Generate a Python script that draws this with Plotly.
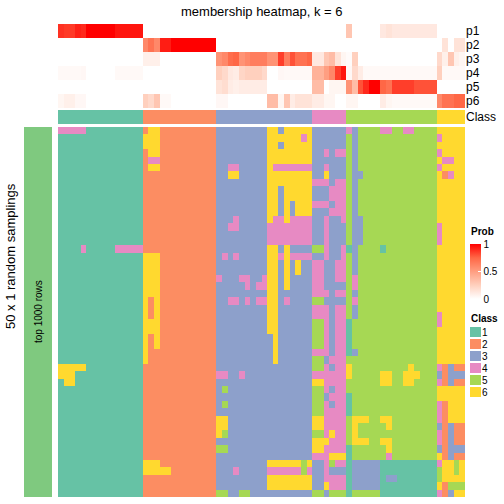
import plotly.graph_objects as go

W = H = 504
FONT = "Liberation Sans, Arial, sans-serif"

def fx(p):
    return p / W

def fy(p):
    return 1 - p / H

# ---------------- data ----------------
prob_names = ["p1", "p2", "p3", "p4", "p5", "p6"]
class_labels = ["1", "2", "3", "4", "5", "6"]
class_colors = ["#66C2A5", "#FC8D62", "#8DA0CB", "#E78AC3", "#A6D854", "#FFD92F"]

sample_class = [1, 1, 1, 1, 1, 1, 1, 1, 1, 1, 1, 1, 1, 1, 1,
                2, 2, 2, 2, 2, 2, 2, 2, 2, 2, 2, 2, 2,
                3, 3, 3, 3, 3, 3, 3, 3, 3, 3, 3, 3, 3, 3, 3, 3, 3,
                4, 4, 4, 4, 4, 4,
                5, 5, 5, 5, 5, 5, 5, 5, 5, 5, 5, 5, 5, 5, 5, 5,
                6, 6, 6, 6, 6]

p1 = [0.88, 0.86, 0.86, 0.92, 0.90, 1, 1, 1, 1, 1, 0.95, 0.95, 0.95, 0.95, 0.95,
      0, 0, 0, 0, 0, 0, 0, 0, 0, 0, 0, 0, 0,
      0, 0, 0, 0, 0, 0, 0, 0, 0, 0, 0, 0, 0, 0, 0, 0, 0,
      0, 0, 0, 0, 0, 0,
      0.30, 0, 0, 0, 0, 0, 0.12, 0.15, 0.12, 0.12, 0.12, 0.12, 0.12, 0.12, 0.12, 0.12,
      0, 0, 0, 0, 0]
p2 = [0, 0, 0, 0, 0, 0, 0, 0, 0, 0, 0, 0, 0, 0, 0,
      0.60, 0.70, 0.60, 0.93, 0.93, 1, 1, 1, 1, 1, 1, 1, 1,
      0, 0, 0, 0, 0, 0, 0, 0, 0, 0, 0, 0, 0, 0, 0, 0, 0,
      0, 0, 0, 0, 0, 0,
      0, 0, 0, 0, 0, 0, 0, 0, 0, 0, 0, 0, 0, 0, 0, 0,
      0, 0.15, 0, 0.15, 0.15]
p3 = [0, 0, 0, 0, 0, 0, 0, 0, 0, 0, 0, 0, 0, 0, 0,
      0.08, 0.08, 0.08, 0, 0, 0, 0, 0, 0, 0, 0, 0, 0,
      0.55, 0.60, 0.72, 0.75, 0.55, 0.60, 0.65, 0.65, 0.65, 0.55, 0.55, 0.85, 0.65, 0.80, 0.70, 0.70, 0.75,
      0.12, 0.12, 0.30, 0.35, 0.15, 0.05,
      0.02, 0.25, 0, 0, 0, 0, 0, 0, 0, 0, 0, 0, 0, 0, 0, 0,
      0.20, 0.08, 0.30, 0.08, 0.05]
p4 = [0.03, 0.03, 0.03, 0.03, 0.04, 0, 0, 0, 0, 0, 0.03, 0.03, 0.03, 0.03, 0.03,
      0, 0, 0, 0, 0, 0, 0, 0, 0, 0, 0, 0, 0,
      0.25, 0.20, 0.12, 0.10, 0.22, 0.25, 0.25, 0.25, 0.20, 0, 0, 0.04, 0.03, 0.03, 0.03, 0.03, 0.03,
      0.40, 0.40, 0.50, 0.60, 0.85, 0.95,
      0.04, 0.20, 0.10, 0.03, 0.03, 0.03, 0.03, 0.03, 0.03, 0.03, 0.03, 0.03, 0.03, 0.03, 0.03, 0.03,
      0.25, 0.03, 0.03, 0.03, 0.03]
p5 = [0, 0, 0, 0, 0, 0, 0, 0, 0, 0, 0, 0, 0, 0, 0,
      0, 0, 0, 0, 0, 0, 0, 0, 0, 0, 0, 0, 0,
      0.15, 0.18, 0.10, 0.08, 0.10, 0.10, 0.10, 0.10, 0.10, 0, 0, 0, 0, 0, 0, 0, 0,
      0.35, 0.35, 0, 0.05, 0.05, 0.05,
      0.55, 0.35, 0.80, 0.90, 1, 1, 0.75, 0.70, 0.85, 0.85, 0.85, 0.85, 0.80, 0.80, 0.80, 0.80,
      0, 0, 0, 0, 0]
p6 = [0.05, 0.08, 0.08, 0.04, 0.04, 0, 0, 0, 0, 0, 0, 0, 0, 0, 0,
      0.25, 0.20, 0.30, 0.03, 0.03, 0, 0, 0, 0, 0, 0, 0, 0,
      0.04, 0.04, 0, 0, 0, 0, 0, 0, 0, 0.35, 0.35, 0.05, 0.30, 0.10, 0.15, 0.15, 0.15,
      0.10, 0.10, 0.05, 0.05, 0, 0,
      0.05, 0.05, 0, 0, 0, 0, 0.10, 0.05, 0.03, 0.03, 0.03, 0.03, 0.03, 0.03, 0.03, 0.03,
      0.60, 0.70, 0.70, 0.75, 0.75]

# class of every sample in each of the 50 random samplings (rows), grouped by column blocks
sampling_rows = [
    "444441111111111 2662222222222 33333333366366666 333333 4355554455445555 66666",
    "111111111111111 6662222222222 33333333366666646 333333 5355555555555555 46666",
    "111111111111111 6662222222222 33333333366366666 333333 5355555555555555 66666",
    "111111111111111 2662222222222 33333333366666666 334344 5355555555555555 46666",
    "111111111111111 2442222222222 33333333366666666 333333 5355555555555555 64466",
    "111111111111111 2662222222222 33443333364444444 334333 5355555555555555 46666",
    "111111111111111 2222222222222 33663333366666666 336333 5335555555555555 62466",
    "111111111111111 2222222222222 33333333366666666 444344 5355555555555555 66666",
    "111111111111111 2222222222222 33333333366366666 333444 5355555555555555 66666",
    "111111111111111 2222222222222 33333333366366666 333444 5355555555555555 66666",
    "111111111111111 2222222222222 33333333366363666 444344 5355555555555555 66666",
    "111111111111111 2222222222222 33333333366363666 333444 5355555555555555 66666",
    "111111111111111 2222222222222 33343333364464444 334334 5335555555555555 66666",
    "111111111111111 2222222222222 33443333344444444 334333 5335555555555555 46666",
    "111111111111111 2222222222222 33333333344444444 334333 5335555555555555 46666",
    "111111111111111 2222222222222 33333333344444444 334333 5335555555555555 46666",
    "111141111144444 2222222222222 33333333366363333 554334 1355551555555555 66666",
    "111111111111111 6662222222222 34343333366464444 334334 5355555555555555 66666",
    "111111111111111 6662222222222 33333333366363633 443344 5355555555555555 66666",
    "111111111111111 6662222222222 33333333366363633 443344 5355555555555555 66666",
    "111111111111111 6662222222222 43334433466363333 443344 5455555555555555 66666",
    "111111111111111 6662222222222 33333434466363333 443333 5455555555555555 66666",
    "111111111111111 6662222222222 33333333366333333 444344 5355555555555555 66666",
    "111111111111111 6262222222222 33443434466343333 553333 5455555555555555 66666",
    "111111111111111 6262222222222 33333333366333333 444344 5355555555555555 66666",
    "111111111111111 6262222222222 33333333366333333 444344 5355555555555555 46666",
    "111111111111111 6662222222222 33333333366333333 554344 1555555555555555 46666",
    "111111111111111 6662222222222 33333333366333333 554344 1555555555555555 66666",
    "111111111111111 6262222222222 33333333336333333 554344 1555555555555555 66666",
    "111111111111111 6262222222222 33333333336333333 554344 1555555555555555 66666",
    "111111111111111 6222222222222 33333333336333333 444344 1355555555555555 66666",
    "111111111111111 6222222222222 33333333336333333 553444 5555555555555555 66666",
    "666661111111111 2222222222222 33333333333333333 554344 6555555555565555 42322",
    "666111111111111 2222222222222 44334333333333333 444444 6555556655666555 32333",
    "166111111111111 2222222222222 33333333333333333 664444 5555556655665555 42322",
    "111111111111111 2222222222222 35333333333333333 554344 5555555555555555 66666",
    "111111111111111 2222222222222 33333333333333333 553444 1555555555555555 66666",
    "111111111111111 2222222222222 35333333333333333 554344 1555555555555555 42666",
    "111111111111111 2222222222222 33333333333333333 554444 1555555555555555 42666",
    "111111111111111 2222222222222 66333333333333333 664444 5666556655555555 42666",
    "111111111111111 2222222222222 66333333333333333 664444 5655555655555555 32322",
    "111111111111111 2222222222222 65333333333333333 554644 5655555555555555 42322",
    "111111111111111 2222222222222 33333333333333333 666444 5666556655555555 42322",
    "111111111111111 2222222222222 55333333333333333 664444 1555555655555555 32333",
    "111111111111111 2222222222222 33333333333333333 444666 1555555455555555 62322",
    "111111111111111 6662222222222 33333333366666656 334544 1333331111111111 46656",
    "111111111111111 6666622222222 33343333344444454 334333 1333331111111111 56656",
    "111111111111111 2222222222222 33333333366666666 334444 1333331331111111 56666",
    "111111111111111 2222222222222 33333333366666666 336444 1333331111111111 62555",
    "111111111111111 2222222222222 55335533333333333 553555 1555551111111111 42366",
]

# ---------------- build ----------------
main_z = []
for r in sampling_rows:
    s = r.replace(" ", "")
    assert len(s) == 72, (r, len(s))
    main_z.append([int(ch) for ch in s])

n_col = len(sample_class)
cols = list(range(n_col))

disc_scale = []
for i, c in enumerate(class_colors):
    disc_scale.append([i / 6, c])
    disc_scale.append([(i + 1) / 6, c])

prob_scale = [[0, "rgb(255,255,255)"], [0.25, "rgb(255,208,190)"],
              [0.5, "rgb(255,158,129)"], [0.75, "rgb(255,103,70)"], [1, "rgb(255,0,0)"]]

fig = go.Figure()

fig.add_trace(go.Heatmap(
    z=[p1, p2, p3, p4, p5, p6], x=cols, y=list(range(6)),
    colorscale=prob_scale, zmin=0, zmax=1, xaxis="x", yaxis="y",
    hoverinfo="skip",
    showscale=True,
    colorbar=dict(
        x=fx(470), xanchor="left", y=fy(244), yanchor="top",
        len=55, lenmode="pixels", thickness=11, thicknessmode="pixels",
        xpad=0, ypad=0, outlinewidth=0,
        tickvals=[0, 0.5, 1], ticktext=["0", "0.5", "1"],
        ticks="inside", ticklen=3, tickcolor="white",
        tickfont=dict(size=10, family=FONT, color="black"),
    ),
))

fig.add_trace(go.Heatmap(
    z=[sample_class], x=cols, y=[0], colorscale=disc_scale, zmin=0.5, zmax=6.5,
    showscale=False, xaxis="x2", yaxis="y2", hoverinfo="skip"))

fig.add_trace(go.Heatmap(
    z=main_z, x=cols, y=list(range(len(main_z))), colorscale=disc_scale, zmin=0.5, zmax=6.5,
    showscale=False, xaxis="x3", yaxis="y3", hoverinfo="skip"))

fig.add_trace(go.Heatmap(
    z=[[1]], x=[0], y=[0], colorscale=[[0, "#7FC97F"], [1, "#7FC97F"]],
    showscale=False, xaxis="x4", yaxis="y4", hoverinfo="skip"))

fig.add_trace(go.Heatmap(
    z=[[1], [2], [3], [4], [5], [6]], x=[0], y=list(range(6)),
    colorscale=disc_scale, zmin=0.5, zmax=6.5, ygap=2,
    showscale=False, xaxis="x5", yaxis="y5", hoverinfo="skip"))

hm_dom = [fx(58), fx(465)]
hidden = dict(visible=False, showgrid=False, zeroline=False)
lab_font = dict(size=12, family=FONT, color="black")

fig.update_layout(
    width=W, height=H, margin=dict(l=0, r=0, t=0, b=0, autoexpand=False),
    paper_bgcolor="white", plot_bgcolor="white", showlegend=False,
    font=dict(family=FONT, color="black"),
    xaxis=dict(domain=hm_dom, range=[-0.5, n_col - 0.5], anchor="y", **hidden),
    yaxis=dict(domain=[fy(108), fy(24)], range=[5.5, -0.5], anchor="x", side="right",
               tickvals=list(range(6)), ticktext=prob_names, ticks="", showgrid=False,
               zeroline=False, showline=False, tickfont=lab_font, automargin=False),
    xaxis2=dict(domain=hm_dom, range=[-0.5, n_col - 0.5], anchor="y2", **hidden),
    yaxis2=dict(domain=[fy(124), fy(110)], range=[-0.5, 0.5], anchor="x2", side="right",
                tickvals=[0], ticktext=["Class"], ticks="", showgrid=False,
                zeroline=False, showline=False, tickfont=lab_font, automargin=False),
    xaxis3=dict(domain=hm_dom, range=[-0.5, n_col - 0.5], anchor="y3", **hidden),
    yaxis3=dict(domain=[fy(497), fy(127)], range=[49.5, -0.5], anchor="x3", **hidden),
    xaxis4=dict(domain=[fx(24), fx(52)], range=[-0.5, 0.5], anchor="y4", **hidden),
    yaxis4=dict(domain=[fy(497), fy(127)], range=[-0.5, 0.5], anchor="x4", **hidden),
    xaxis5=dict(domain=[fx(470), fx(481)], range=[-0.5, 0.5], anchor="y5", **hidden),
    yaxis5=dict(domain=[fy(398), fy(326)], range=[5.5, -0.5], anchor="x5", side="right",
                tickvals=list(range(6)), ticktext=class_labels, ticks="", showgrid=False,
                zeroline=False, showline=False, automargin=False,
                tickfont=dict(size=10, family=FONT, color="black")),
    annotations=[
        dict(text="membership heatmap, k = 6", x=fx(262), y=fy(11), xref="paper", yref="paper",
             showarrow=False, xanchor="center", yanchor="middle",
             font=dict(size=13, family=FONT, color="black")),
        dict(text="50 x 1 random samplings", x=fx(10), y=fy(256), xref="paper", yref="paper",
             showarrow=False, textangle=-90, xanchor="center", yanchor="middle",
             font=dict(size=13, family=FONT, color="black")),
        dict(text="top 1000 rows", x=fx(38), y=fy(312), xref="paper", yref="paper",
             showarrow=False, textangle=-90, xanchor="center", yanchor="middle",
             font=dict(size=10, family=FONT, color="black")),
        dict(text="<b>Prob</b>", x=fx(469), y=fy(232), xref="paper", yref="paper",
             showarrow=False, xanchor="left", yanchor="middle",
             font=dict(size=10, family=FONT, color="black")),
        dict(text="<b>Class</b>", x=fx(469), y=fy(318), xref="paper", yref="paper",
             showarrow=False, xanchor="left", yanchor="middle",
             font=dict(size=10, family=FONT, color="black")),
    ],
)

fig.write_html("out.html", config={"displayModeBar": False},
               post_script="document.body.style.margin='0px';")
